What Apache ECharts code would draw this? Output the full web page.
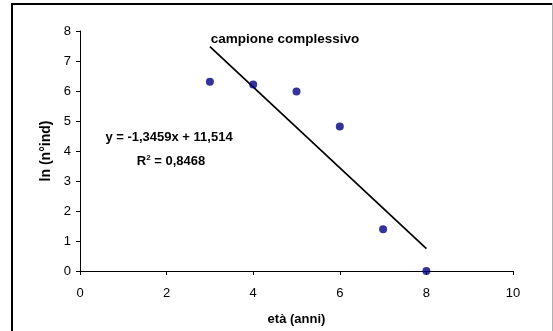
<!DOCTYPE html>
<html>
<head>
<meta charset="utf-8">
<style>
  html, body { margin: 0; padding: 0; background: #fff; }
  #chart { width: 553px; height: 331px; }
</style>
<script src="https://cdn.jsdelivr.net/npm/echarts@6/dist/echarts.min.js"></script>
</head>
<body>
<div id="chart"></div>
<script>
// età (anni) and ln of the number of individuals per age class
const ages = [3, 4, 5, 6, 7, 8];
const lnCounts = [6.31, 6.22, 5.98, 4.82, 1.39, 0];

// linear trend line as stated in the equation label
const trendSlope = -1.3459;
const trendIntercept = 11.514;
const trendRange = [3, 8];
const rSquared = 0.8468;

const xTicks = { min: 0, max: 10, step: 2 };
const yTicks = { min: 0, max: 8, step: 1 };

const fmt = (v, d) => v.toFixed(d).replace('.', ',');

const points = ages.map((a, i) => [a, lnCounts[i]]);
const trend = trendRange.map(x => [x, trendSlope * x + trendIntercept]);

const font = 'Liberation Sans, Arial, sans-serif';
const chart = echarts.init(document.getElementById('chart'), null, { renderer: 'canvas' });

chart.setOption({
  animation: false,
  backgroundColor: '#fff',
  grid: { left: 80, right: 40, top: 31, bottom: 60, containLabel: false },
  xAxis: {
    type: 'value', min: xTicks.min, max: xTicks.max, interval: xTicks.step,
    name: 'età (anni)', nameLocation: 'middle', nameGap: 42,
    nameTextStyle: { fontFamily: font, fontSize: 13, fontWeight: 'bold', color: '#000' },
    axisLine: { show: true, lineStyle: { color: '#000', width: 1 } },
    axisTick: { show: true, length: 4, lineStyle: { color: '#000' } },
    axisLabel: { fontFamily: font, fontSize: 13, color: '#000', margin: 16 },
    splitLine: { show: false }
  },
  yAxis: {
    type: 'value', min: yTicks.min, max: yTicks.max, interval: yTicks.step,
    name: 'ln (n°ind)', nameLocation: 'middle', nameGap: 24, nameRotate: 90,
    nameTextStyle: { fontFamily: font, fontSize: 14, fontWeight: 'bold', color: '#000' },
    axisLine: { show: true, lineStyle: { color: '#000', width: 1 } },
    axisTick: { show: true, length: 4, lineStyle: { color: '#000' } },
    axisLabel: { fontFamily: font, fontSize: 13, color: '#000', margin: 9 },
    splitLine: { show: false }
  },
  series: [
    {
      type: 'line', data: trend, symbol: 'none', silent: true,
      lineStyle: { color: '#000', width: 1.7 }, z: 2
    },
    {
      type: 'scatter', data: points, symbol: 'circle', symbolSize: 8,
      itemStyle: { color: '#00007f' }, z: 3
    }
  ],
  graphic: [
    // chart frame
    { type: 'line', shape: { x1: 12, y1: 3, x2: 12, y2: 331 }, style: { stroke: '#000', lineWidth: 2 } },
    { type: 'line', shape: { x1: 11, y1: 4, x2: 552, y2: 4 }, style: { stroke: '#000', lineWidth: 2 } },
    { type: 'line', shape: { x1: 552.5, y1: 3, x2: 552.5, y2: 331 }, style: { stroke: '#b0b0b0', lineWidth: 1 } },
    {
      type: 'text', x: 285, y: 39,
      style: {
        text: 'campione complessivo', font: 'bold 13.5px ' + font, fill: '#000',
        align: 'center', verticalAlign: 'middle'
      }
    },
    {
      type: 'text', x: 169, y: 137,
      style: {
        text: 'y = ' + fmt(trendSlope, 4) + 'x + ' + fmt(trendIntercept, 3),
        font: 'bold 13px ' + font, fill: '#000', align: 'center', verticalAlign: 'middle'
      }
    },
    {
      type: 'text', x: 171, y: 161,
      style: {
        text: '{r|R}{s|2}{r| = ' + fmt(rSquared, 4) + '}',
        align: 'center', verticalAlign: 'middle',
        rich: {
          r: { font: 'bold 13px ' + font, fill: '#000' },
          s: { font: 'bold 8px ' + font, fill: '#000', verticalAlign: 'top', padding: [0, 0, 6, 0] }
        }
      }
    }
  ]
});
</script>
</body>
</html>
